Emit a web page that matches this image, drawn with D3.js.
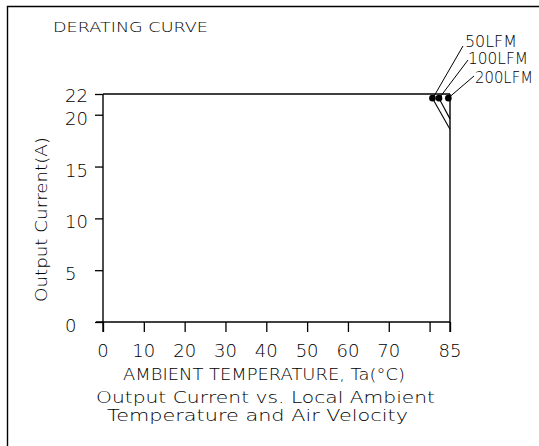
<!DOCTYPE html>
<html lang="en">
<head>
<meta charset="UTF-8">
<title>Derating Curve</title>
<script src="https://d3js.org/d3.v7.min.js"></script>
<style>
  body { margin: 0; background: #fff; }
  svg text { font-family: "DejaVu Sans", sans-serif; font-weight: 200; fill: #000; }
  .ln { fill: none; stroke: #000; stroke-width: 1.4px; }
</style>
</head>
<body>
<svg width="539" height="446"></svg>
<script>
// axis values
const xTicks = [0, 10, 20, 30, 40, 50, 60, 70, 80, 85];
const xLabels = [0, 10, 20, 30, 40, 50, 60, 70, 85];
const yTicks = [0, 5, 10, 15, 20, 22];

// derating curves: knee point (dot) and end value at 85°C
const series = ["50LFM", "100LFM", "200LFM"];
const kneeTemp = [80.7, 82.3, 84.6];
const kneeCurrent = [21.6, 21.6, 21.6];
const endTemp = [85, 85, 85];
const endCurrent = [18.6, 19.6, 21.6];

const svg = d3.select("svg");
const x = d3.scaleLinear().domain([0, 85]).range([103, 450]);
const y = d3.scaleLinear().domain([0, 22]).range([322, 94]);

// outer frame (top + left)
svg.append("path").attr("class", "ln").attr("d", "M7.5,446 V6.5 H539");

svg.append("text").attr("x", 53).attr("y", 32).attr("font-size", 14)
  .attr("textLength", 155).attr("lengthAdjust", "spacingAndGlyphs").text("DERATING CURVE");

// x axis
const xAxis = d3.axisBottom(x).tickValues(xTicks).tickSize(10).tickSizeOuter(0).tickFormat("");
const gx = svg.append("g").attr("transform", `translate(0,${y(0)})`).call(xAxis);
gx.select(".domain").remove();
gx.selectAll(".tick line").attr("stroke", "#000").attr("stroke-width", 1.3);
svg.append("line").attr("class", "ln").attr("x1", 96).attr("x2", x(85)).attr("y1", y(0)).attr("y2", y(0));
svg.selectAll(".xl").data(xLabels).enter().append("text")
  .attr("x", d => x(d)).attr("y", 357).attr("font-size", 18)
  .attr("text-anchor", "middle").text(d => d);

// y axis
const yAxis = d3.axisLeft(y).tickValues(yTicks).tickSize(8).tickSizeOuter(0).tickFormat("");
const gy = svg.append("g").attr("transform", `translate(${x(0)},0)`).call(yAxis);
gy.select(".domain").remove();
gy.selectAll(".tick line").attr("stroke", "#000").attr("stroke-width", 1.3);
svg.append("line").attr("class", "ln").attr("x1", x(0)).attr("x2", x(0)).attr("y1", y(22)).attr("y2", y(0) + 10);
svg.selectAll(".yl").data(yTicks).enter().append("text")
  .attr("x", 65).attr("y", d => y(d) + (d === 22 ? 8 : 10)).attr("font-size", 18)
  .text(d => d);

// plot box: top at 22 A, right at 85 °C
svg.append("line").attr("class", "ln").attr("x1", x(0)).attr("x2", x(85)).attr("y1", y(22)).attr("y2", y(22));
svg.append("line").attr("class", "ln").attr("x1", x(85)).attr("x2", x(85)).attr("y1", y(22)).attr("y2", y(0) + 10);

// derating segments and knee dots
series.forEach((s, i) => {
  svg.append("line").attr("stroke", "#000").attr("stroke-width", 1.1)
    .attr("x1", x(kneeTemp[i])).attr("y1", y(kneeCurrent[i]))
    .attr("x2", x(endTemp[i])).attr("y2", y(endCurrent[i]));
  svg.append("circle").attr("cx", x(kneeTemp[i])).attr("cy", y(kneeCurrent[i])).attr("r", 3.3).attr("fill", "#000");
});

// labels with leaders
const labelPos = [[465, 47, 52, 463, 46], [468, 64, 60, 468, 60], [475, 83, 58, 474, 76]];
series.forEach((s, i) => {
  const p = labelPos[i];
  svg.append("line").attr("stroke", "#000").attr("stroke-width", 1)
    .attr("x1", x(kneeTemp[i]) + 1).attr("y1", y(kneeCurrent[i]) - 1)
    .attr("x2", p[3]).attr("y2", p[4]);
  svg.append("text").attr("x", p[0]).attr("y", p[1]).attr("font-size", 15)
    .attr("textLength", p[2]).attr("lengthAdjust", "spacingAndGlyphs").text(s);
});

// axis titles
svg.append("text").attr("x", 123).attr("y", 380).attr("font-size", 15)
  .attr("textLength", 282).attr("lengthAdjust", "spacingAndGlyphs").text("AMBIENT TEMPERATURE, Ta(°C)");
svg.append("text").attr("x", 96).attr("y", 403).attr("font-size", 15)
  .attr("textLength", 339).attr("lengthAdjust", "spacingAndGlyphs").text("Output Current vs. Local Ambient");
svg.append("text").attr("x", 107).attr("y", 421).attr("font-size", 15)
  .attr("textLength", 301).attr("lengthAdjust", "spacingAndGlyphs").text("Temperature and Air Velocity");
svg.append("text").attr("transform", "translate(47,302) rotate(-90)").attr("font-size", 16)
  .attr("textLength", 165).attr("lengthAdjust", "spacingAndGlyphs").text("Output Current(A)");
</script>
</body>
</html>
